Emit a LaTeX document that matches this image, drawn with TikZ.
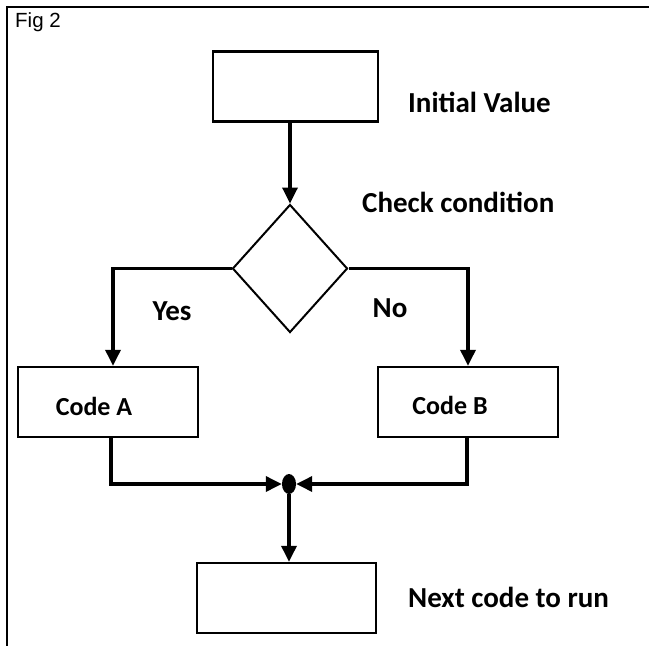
\documentclass[tikz,border=0pt]{standalone}
\usepackage{fontspec}
\setmainfont{Carlito}
\newfontfamily\figfont{Liberation Sans}
\usepackage{tikz}
\usetikzlibrary{arrows,arrows.meta,positioning,shapes}
\tikzset{
  block/.style={draw,rectangle,line width=2.4pt,minimum height=70pt,inner sep=0pt},
  decision/.style={draw,diamond,line width=2pt,minimum width=115pt,minimum height=128pt,aspect=0.9,inner sep=0pt},
  joint/.style={fill,ellipse,minimum width=14pt,minimum height=20pt,inner sep=0pt},
  caption/.style={font=\fontsize{29}{34}\selectfont\bfseries,inner sep=0pt},
  inbox/.style={font=\fontsize{26}{30}\selectfont\bfseries,inner sep=0pt},
  flow/.style={
    -{Triangle[length=16pt,width=15pt]},line width=3.4pt
  }
}
\begin{document}
\begin{tikzpicture}[x=1pt,y=-1pt]
  \useasboundingbox (0,0) rectangle (649,646);
  \draw[line width=2.4pt] (7,646) -- (7,7) -- (649,7);
  \node[anchor=west,inner sep=0pt,font=\figfont\fontsize{20.5}{24}\selectfont] (fig) at (15,22) {Fig 2};

  \node[block,minimum width=165pt] (init) at (295.5,86.5) {};
  \node[decision] (cond) at (290,268.5) {};
  \node[block,minimum width=180pt] (codeA) at (108,402) {};
  \node[block,minimum width=180pt] (codeB) at (468,402) {};
  \node[joint] (join) at (289,484) {};
  \node[block,minimum width=179pt] (next) at (286.5,598) {};

  \node[caption,anchor=west] (initlbl) at (408,102) {Initial Value};
  \node[caption,anchor=west] (condlbl) at (362,202) {Check condition};
  \node[caption] (yes) at (172,311) {Yes};
  \node[caption] (no) at (390,308) {No};
  \node[inbox] (codeAlbl) at (94,406) {Code A};
  \node[inbox] (codeBlbl) at (450,405) {Code B};
  \node[caption,anchor=west] (nextlbl) at (408,597) {Next code to run};

  \draw[flow] (init.south -| cond.north) -- (cond.north);
  \draw[flow] (cond.west) -| ([xshift=5pt]codeA.north);
  \draw[flow] (cond.east) -| (codeB.north);
  \draw[flow] ([xshift=3pt]codeA.south) |- (join.west);
  \draw[flow] ([xshift=-1pt]codeB.south) |- (join.east);
  \draw[flow] (join.south) -- (next.north -| join.south);
\end{tikzpicture}
\end{document}
